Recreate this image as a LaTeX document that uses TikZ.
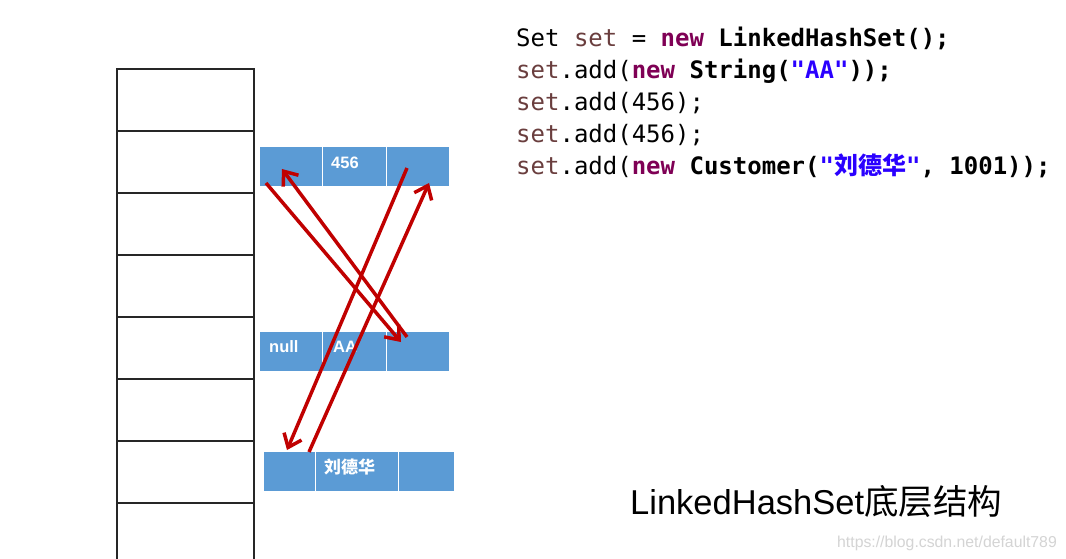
\documentclass[tikz,border=0pt]{standalone}
\usepackage{fontspec}
\setmainfont{Liberation Sans}
\newfontfamily\codefont{DejaVu Sans Mono}
\newfontfamily\cjk{Noto Sans CJK SC}
\usetikzlibrary{arrows.meta}
\definecolor{cellblue}{HTML}{5B9BD5}
\definecolor{arrred}{HTML}{C00000}
\definecolor{kwpurple}{HTML}{7F0055}
\definecolor{varbrown}{HTML}{6A3E3E}
\definecolor{strblue}{HTML}{2A00FF}
\definecolor{wmgray}{HTML}{D4D4D4}
\newcommand\kwd[1]{{\bfseries\color{kwpurple}#1}}
\newcommand\vrb[1]{{\color{varbrown}#1}}
\newcommand\strg[1]{{\bfseries\color{strblue}#1}}
\begin{document}
\begin{tikzpicture}[x=1pt,y=-1pt,
  slot/.style={draw=black!85,line width=1.3pt,minimum width=137pt,minimum height=62pt,inner sep=0pt},
  cell/.style={fill=cellblue,draw=white,line width=1pt,minimum height=40pt,inner sep=0pt},
  celltext/.style={anchor=base west,inner sep=0pt,text=white,font=\fontsize{16.5}{17}\selectfont\bfseries},
  link/.style={draw=arrred,line width=3.5pt,-{Straight Barb[length=12pt,width=19pt]}},
  codeline/.style={anchor=base west,inner sep=0pt,font=\codefont\fontsize{24}{32}\selectfont}]
\path[fill=white,use as bounding box] (0,0) rectangle (1066,559);

% hash table
\begin{scope}
  \clip (0,0) rectangle (1066,559);
  \foreach \i in {1,...,8}
    \node[slot] (t\i) at (185.5,{100+62*(\i-1)}) {};
\end{scope}

% linked entries
\node[cell,minimum width=63pt] (r1a) at (291,167) {};
\node[cell,minimum width=63.5pt] (r1b) at (354.5,167) {};
\node[cell,minimum width=63pt] (r1c) at (418,167) {};
\node[cell,minimum width=63pt] (r2a) at (291,351.5) {};
\node[cell,minimum width=63.5pt] (r2b) at (354.5,351.5) {};
\node[cell,minimum width=63pt] (r2c) at (418,351.5) {};
\node[cell,minimum width=52pt] (r3a) at (289,471.5) {};
\node[cell,minimum width=83pt] (r3b) at (356.5,471.5) {};
\node[cell,minimum width=56pt] (r3c) at (426,471.5) {};

\node[celltext] (l456) at (331,168) {456};
\node[celltext] (lnull) at (269,352) {null};
\node[celltext] (laa) at (333,352) {AA};
\node[celltext,font=\cjk\fontsize{17}{17}\selectfont\bfseries] (lldh) at (324,473) {刘德华};

% arrows
\coordinate (a1) at (266,183); \coordinate (a2) at (401,342);
\coordinate (b1) at (407,337); \coordinate (b2) at (282,169);
\coordinate (c1) at (407,168); \coordinate (c2) at (287,450);
\coordinate (d1) at (309,452); \coordinate (d2) at (429,183);
\draw[link] (a1) -- (a2);
\draw[link] (b1) -- (b2);
\draw[link] (c1) -- (c2);
\draw[link] (d1) -- (d2);

% code
\node[codeline] (code1) at (516,47) {Set \vrb{set} = \kwd{new} \textbf{LinkedHashSet();}};
\node[codeline] (code2) at (516,79) {\vrb{set}.add(\kwd{new} \textbf{String(}\strg{"AA"}\textbf{));}};
\node[codeline] (code3) at (516,111) {\vrb{set}.add(456);};
\node[codeline] (code4) at (516,143) {\vrb{set}.add(456);};
\node[codeline] (code5) at (516,175) {\vrb{set}.add(\kwd{new} \textbf{Customer(}\strg{"{\cjk 刘德华}"}\textbf{, 1001));}};

% caption
\node[anchor=base west,inner sep=0pt,font=\fontsize{34.5}{35}\selectfont] (cap) at (630,514) {LinkedHashSet{\cjk 底层结构}};
\node[anchor=base west,inner sep=0pt,text=wmgray,font=\fontsize{15.8}{16}\selectfont] (wm) at (837,547) {https://blog.csdn.net/default789};
\end{tikzpicture}
\end{document}
